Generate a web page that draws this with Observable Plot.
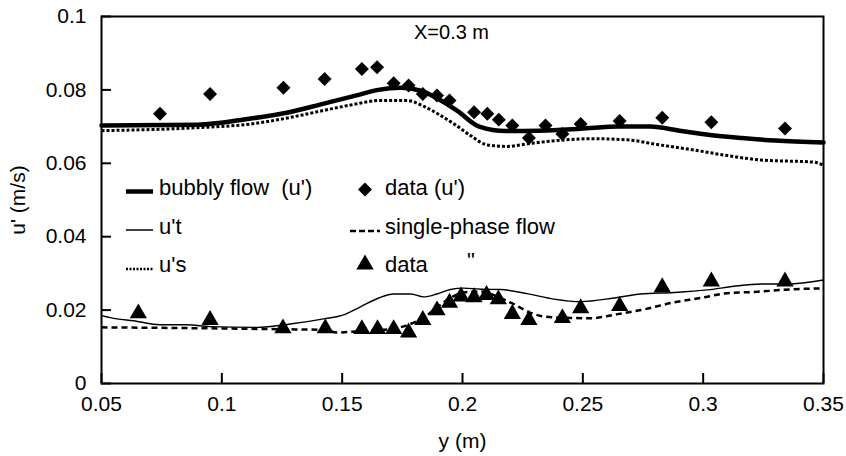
<!DOCTYPE html>
<html>
<head>
<meta charset="utf-8">
<script src="https://cdn.jsdelivr.net/npm/d3@7"></script>
<script src="https://cdn.jsdelivr.net/npm/@observablehq/plot@0.6"></script>
<style>
  html, body { margin: 0; padding: 0; background: #fff; }
  #wrap { position: relative; width: 846px; height: 456px; }
  #legend { position: absolute; left: 0; top: 0; pointer-events: none; }
  text { font-family: "Liberation Sans", Arial, sans-serif; }
</style>
</head>
<body>
<div id="wrap"></div>
<script>
// ---- tick values ----
const xTicks = [0.05, 0.1, 0.15, 0.2, 0.25, 0.3, 0.35];
const yTicks = [0, 0.02, 0.04, 0.06, 0.08, 0.1];

// ---- bubbly flow (u') : thick solid ----
const bubblyX = [0.05,0.09,0.11,0.128,0.142,0.156,0.165,0.174,0.179,0.185,0.19,0.198,0.207,0.218,0.232,0.249,0.265,0.278,0.291,0.302,0.316,0.33,0.35];
const bubblyU = [0.0703,0.0705,0.0720,0.0739,0.0762,0.0785,0.0800,0.0806,0.0803,0.0792,0.0775,0.0742,0.0700,0.0688,0.0689,0.0694,0.0700,0.0700,0.0688,0.0678,0.0669,0.0662,0.0657];

// ---- u's : dotted ----
const usX = [0.05,0.0896,0.1118,0.1284,0.1423,0.1561,0.165,0.177,0.184,0.191,0.197,0.2035,0.2103,0.2186,0.2269,0.2394,0.2533,0.2685,0.2810,0.2963,0.3101,0.3240,0.3461,0.35];
const usU = [0.0689,0.0697,0.0707,0.0725,0.0744,0.0762,0.0771,0.0771,0.0755,0.0730,0.0705,0.0675,0.0650,0.0646,0.0653,0.0662,0.0667,0.0664,0.0651,0.0636,0.0621,0.0609,0.0603,0.0594];

// ---- u't : thin solid ----
const utX = [0.05,0.0563,0.0632,0.0743,0.0854,0.0951,0.1146,0.1284,0.1423,0.1506,0.1576,0.1652,0.1714,0.1784,0.1839,0.1894,0.1950,0.2005,0.2075,0.2158,0.2269,0.2380,0.2491,0.2630,0.2741,0.2879,0.3018,0.3129,0.3240,0.3351,0.35];
const utU = [0.0185,0.0176,0.0171,0.0160,0.0160,0.0155,0.0153,0.0162,0.0176,0.0187,0.0209,0.0233,0.0244,0.0244,0.0236,0.0244,0.0256,0.0260,0.0257,0.0256,0.0245,0.0230,0.0223,0.0233,0.0244,0.0248,0.0255,0.0265,0.0271,0.0271,0.0282];

// ---- single-phase flow : dashed ----
const spX = [0.05,0.1229,0.1423,0.1478,0.1561,0.170,0.1783,0.1839,0.1894,0.195,0.2005,0.2075,0.2151,0.2207,0.2297,0.2380,0.2533,0.2644,0.2741,0.2879,0.2990,0.3087,0.3226,0.3378,0.35];
const spU = [0.0153,0.0148,0.0146,0.0139,0.0142,0.0148,0.0162,0.0180,0.0207,0.0233,0.0248,0.0251,0.0235,0.0218,0.0189,0.0180,0.0178,0.0189,0.0200,0.0221,0.0233,0.0245,0.0250,0.0257,0.0259];

// ---- data (u') : diamonds ----
const dataUX = [0.0743,0.0951,0.1256,0.1427,0.1582,0.1645,0.1714,0.1776,0.1835,0.1894,0.1946,0.2048,0.2103,0.2151,0.2207,0.2276,0.2345,0.2415,0.2491,0.2653,0.2830,0.3034,0.3340];
const dataUY = [0.0735,0.0789,0.0806,0.0830,0.0857,0.0862,0.0818,0.0812,0.0789,0.0785,0.0771,0.0739,0.0735,0.0719,0.0703,0.0669,0.0703,0.0680,0.0707,0.0715,0.0724,0.0712,0.0695];

// ---- data (single-phase) : triangles ----
const dataSX = [0.0653,0.0951,0.1254,0.1430,0.1582,0.1647,0.1714,0.1776,0.1835,0.1894,0.1946,0.1994,0.2048,0.2100,0.2149,0.2207,0.2276,0.2415,0.2491,0.2653,0.2830,0.3034,0.3340];
const dataSY = [0.0198,0.0180,0.0157,0.0157,0.0155,0.0155,0.0155,0.0146,0.0180,0.0206,0.0227,0.0244,0.0242,0.0248,0.0236,0.0196,0.0180,0.0185,0.0212,0.0218,0.0269,0.0285,0.0285];

// ---- texts ----
const annotation = "X=0.3 m";
const xLabel = "y (m)";
const yLabel = "u' (m/s)";
const legendLabels = ["bubbly flow  (u')", "data (u')", "u't", "single-phase flow", "u's", "data", "\""];

const zip = (xs, ys) => xs.map((x, i) => ({x, y: ys[i]}));

const W = 846, H = 456, ML = 101, MR = 23, MT = 16, MB = 73;
const FW = W - ML - MR, FH = H - MT - MB;
const fmt = d3.format("~g");
const DOT = "3,2";

const chart = Plot.plot({
  width: W, height: H,
  marginLeft: ML, marginRight: MR, marginTop: MT, marginBottom: MB,
  style: {fontFamily: "'Liberation Sans', Arial, sans-serif", fontSize: "21px", background: "white", color: "black"},
  x: {domain: [0.05, 0.35]},
  y: {domain: [0, 0.1]},
  marks: [
    Plot.line(zip(bubblyX, bubblyU), {x: "x", y: "y", stroke: "black", strokeWidth: 4.5, curve: "monotone-x"}),
    Plot.line(zip(usX, usU), {x: "x", y: "y", stroke: "black", strokeWidth: 3, strokeDasharray: DOT, strokeLinecap: "butt", curve: "monotone-x"}),
    Plot.line(zip(utX, utU), {x: "x", y: "y", stroke: "black", strokeWidth: 1.4, curve: "monotone-x"}),
    Plot.line(zip(spX, spU), {x: "x", y: "y", stroke: "black", strokeWidth: 2.5, strokeDasharray: "6,4", strokeLinecap: "butt", curve: "monotone-x"}),
    Plot.dot(zip(dataUX, dataUY), {x: "x", y: "y", symbol: "diamond2", r: 6.3, fill: "black", stroke: "none"}),
    Plot.dot(zip(dataSX, dataSY), {x: "x", y: "y", symbol: "triangle", r: 6.4, fill: "black", stroke: "none", dy: 2.5}),
    Plot.tickX(xTicks, {x: d => d, insetTop: FH - 10, stroke: "black", strokeWidth: 2}),
    Plot.tickY(yTicks, {y: d => d, insetRight: FW - 10, stroke: "black", strokeWidth: 2}),
    Plot.axisX({ticks: xTicks, tickSize: 0, tickPadding: 13, tickFormat: fmt, fontSize: 21,
      label: xLabel, labelAnchor: "center", labelOffset: 64, labelArrow: "none"}),
    Plot.axisY({ticks: yTicks, tickSize: 0, tickPadding: 15, tickFormat: fmt, fontSize: 21,
      label: yLabel, labelAnchor: "center", labelOffset: 91, labelArrow: "none"}),
    Plot.text([annotation], {frameAnchor: "top", text: d => d, dx: -11, dy: 8, lineAnchor: "top", fontSize: 20, fill: "black"}),
    Plot.frame({stroke: "black", strokeWidth: 2})
  ]
});

const wrap = document.getElementById("wrap");
wrap.appendChild(chart);

// ---- legend overlay ----
const ns = "http://www.w3.org/2000/svg";
const leg = document.createElementNS(ns, "svg");
leg.setAttribute("id", "legend");
leg.setAttribute("width", W);
leg.setAttribute("height", H);
function el(tag, attrs) {
  const e = document.createElementNS(ns, tag);
  for (const k in attrs) e.setAttribute(k, attrs[k]);
  leg.appendChild(e);
  return e;
}
function txt(x, y, s) {
  const t = el("text", {x, y, "font-size": 22, fill: "black", "font-family": "'Liberation Sans', Arial, sans-serif"});
  t.textContent = s;
  t.style.whiteSpace = "pre";
}
// row 1
el("line", {x1: 126, x2: 153, y1: 191.5, y2: 191.5, stroke: "black", "stroke-width": 4.5});
txt(159, 195, legendLabels[0]);
el("path", {d: "M365,182.5 L372,189.5 L365,196.5 L358,189.5 Z", fill: "black"});
txt(385, 195, legendLabels[1]);
// row 2
el("line", {x1: 126, x2: 153, y1: 230, y2: 230, stroke: "black", "stroke-width": 1.5});
txt(159, 234, legendLabels[2]);
el("line", {x1: 350, x2: 380, y1: 231, y2: 231, stroke: "black", "stroke-width": 2.5, "stroke-dasharray": "6,3"});
txt(385, 234, legendLabels[3]);
// row 3
el("line", {x1: 126, x2: 153, y1: 269, y2: 269, stroke: "black", "stroke-width": 2.6, "stroke-dasharray": "2,1.5"});
txt(159, 272, legendLabels[4]);
el("path", {d: "M365,254.5 L373.7,269.5 L356.3,269.5 Z", fill: "black"});
txt(385, 272, legendLabels[5]);
txt(467, 268, legendLabels[6]);
wrap.appendChild(leg);
</script>
</body>
</html>
